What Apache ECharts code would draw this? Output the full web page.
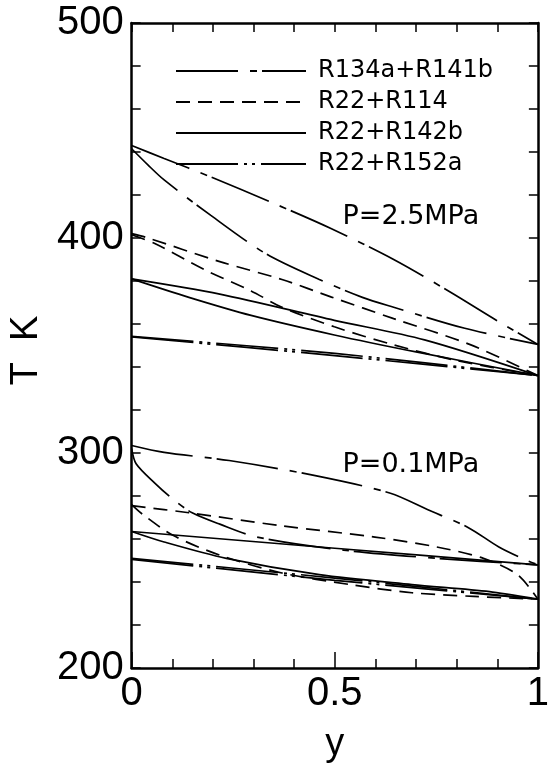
<!DOCTYPE html>
<html>
<head>
<meta charset="utf-8">
<script src="https://cdn.jsdelivr.net/npm/echarts@6/dist/echarts.min.js"></script>
<style>
html,body{margin:0;padding:0;background:#fff;}
#chart{width:552px;height:769px;}
</style>
</head>
<body>
<div id="chart"></div>
<script>
// ---- data: [y (mole fraction), T (K)] ----
// P = 2.5 MPa
var hp_R134a_R141b_a = [[0,443],[0.08,437],[0.2,428],[0.339,417],[0.492,404.3],[0.645,390],[0.783,375],[0.9,361.5],[1,350.5]];
var hp_R134a_R141b_b = [[0,441.5],[0.04,434],[0.08,427],[0.195,410.5],[0.332,392.5],[0.462,380.7],[0.568,372.4],[0.645,367.8],[0.82,358],[1,350.5]];
var hp_R22_R114_a = [[0,402],[0.034,400.4],[0.217,389],[0.37,380.7],[0.492,372.5],[0.645,362.5],[0.835,350.3],[1,336]];
var hp_R22_R114_b = [[0,401.5],[0.057,397.4],[0.179,385.3],[0.294,375.4],[0.37,367.8],[0.499,358.7],[0.645,350.3],[0.8,343],[1,336]];
var hp_R22_R142b_a = [[0,381],[0.217,373.9],[0.499,361.7],[0.721,352.6],[1,336]];
var hp_R22_R142b_b = [[0,381],[0.141,372.4],[0.294,364],[0.499,354.9],[0.7,347],[1,336]];
var hp_R22_R152a_a = [[0,354.2],[0.5,346.3],[1,336]];
var hp_R22_R152a_b = [[0,354],[0.5,345.3],[1,336]];
// P = 0.1 MPa
var lp_R134a_R141b_a = [[0,303.5],[0.08,300.3],[0.24,296.5],[0.446,289.7],[0.637,281.3],[0.728,273.7],[0.828,265.4],[0.904,256.3],[0.973,250],[1,248]];
var lp_R134a_R141b_b = [[0,302],[0.011,295],[0.057,286],[0.103,278.3],[0.149,272.2],[0.217,266.9],[0.309,260.9],[0.522,254.8],[0.751,251],[1,248]];
var lp_R22_R114_a = [[0,275.5],[0.141,272.2],[0.37,266.1],[0.599,260.9],[0.751,256.3],[0.866,251],[0.95,243.4],[1,232]];
var lp_R22_R114_b = [[0,276],[0.027,271.5],[0.103,261.6],[0.217,252.5],[0.37,244.2],[0.538,238.8],[0.69,235],[0.842,233.3],[1,232]];
var lp_R22_R142b_a = [[0,263.5],[0.5,255.7],[1,248]];
var lp_R22_R142b_b = [[0,263.5],[0.08,258.6],[0.233,251],[0.462,243.4],[0.69,238.8],[0.881,235.5],[1,232]];
var lp_R22_R152a_a = [[0,251],[0.5,241.8],[1,232]];
var lp_R22_R152a_b = [[0,250.5],[0.5,240.8],[1,232]];

var legendNames = ['R134a+R141b','R22+R114','R22+R142b','R22+R152a'];
var annotations = [{text:'P=2.5MPa', at:[0.519,409.8]}, {text:'P=0.1MPa', at:[0.519,294.2]}];

var xTicks = {min:0, max:1, interval:0.5};
var yTicks = {min:200, max:500, interval:100};

// ---- styles ----
var FONT = 'DejaVu Sans';
var TICKFONT = 'Liberation Sans';
var dashStyles = {
  'R134a+R141b': [62,12,7,5],
  'R22+R114': [14,8],
  'R22+R142b': 'solid',
  'R22+R152a': [62,6,3,5,3,6]
};
function mk(name, data){
  return {name:name, type:'line', data:data, symbol:'none', smooth:0.3,
    lineStyle:{color:'#000', width:1.7, type:dashStyles[name]}, itemStyle:{color:'#000'}, z:3};
}
var series = [
  mk('R134a+R141b', hp_R134a_R141b_a), mk('R134a+R141b', hp_R134a_R141b_b),
  mk('R134a+R141b', lp_R134a_R141b_a), mk('R134a+R141b', lp_R134a_R141b_b),
  mk('R22+R114', hp_R22_R114_a), mk('R22+R114', hp_R22_R114_b),
  mk('R22+R114', lp_R22_R114_a), mk('R22+R114', lp_R22_R114_b),
  mk('R22+R142b', hp_R22_R142b_a), mk('R22+R142b', hp_R22_R142b_b),
  mk('R22+R142b', lp_R22_R142b_a), mk('R22+R142b', lp_R22_R142b_b),
  mk('R22+R152a', hp_R22_R152a_a), mk('R22+R152a', hp_R22_R152a_b),
  mk('R22+R152a', lp_R22_R152a_a), mk('R22+R152a', lp_R22_R152a_b)
];

var axLine = {show:true, onZero:false, lineStyle:{color:'#000', width:2.5}};
var tickLS = {color:'#000', width:1.5};
var chart = echarts.init(document.getElementById('chart'), null, {renderer:'canvas'});
chart.setOption({
  backgroundColor:'#fff',
  animation:false,
  grid:{left:105, right:11, top:23, bottom:87},
  legend:{
    data:legendNames, orient:'vertical', left:170, top:54,
    itemWidth:130, itemHeight:14, itemGap:7,
    itemStyle:{opacity:0},
    textStyle:{fontFamily:FONT, fontSize:24, color:'#000', padding:[0,0,0,7]},
    selectedMode:false
  },
  xAxis:[
    {type:'value', min:xTicks.min, max:xTicks.max, interval:xTicks.interval, position:'bottom',
     axisLine:axLine, splitLine:{show:false},
     axisTick:{show:true, inside:true, length:16, lineStyle:tickLS},
     minorTick:{show:true, splitNumber:5, length:9, lineStyle:tickLS},
     axisLabel:{fontFamily:TICKFONT, fontSize:40, color:'#000', margin:6},
     name:'y', nameLocation:'middle', nameGap:58,
     nameTextStyle:{fontFamily:TICKFONT, fontSize:38, color:'#000'}},
    {type:'value', min:xTicks.min, max:xTicks.max, interval:xTicks.interval, position:'top',
     axisLine:axLine, splitLine:{show:false}, axisLabel:{show:false},
     axisTick:{show:true, inside:true, length:9, lineStyle:tickLS},
     minorTick:{show:true, splitNumber:5, length:9, lineStyle:tickLS}}
  ],
  yAxis:[
    {type:'value', min:yTicks.min, max:yTicks.max, interval:yTicks.interval, position:'left',
     axisLine:axLine, splitLine:{show:false},
     axisTick:{show:true, inside:true, length:9, lineStyle:tickLS},
     minorTick:{show:true, splitNumber:5, length:9, lineStyle:tickLS},
     axisLabel:{fontFamily:TICKFONT, fontSize:40, color:'#000', margin:8},
     name:'T  K', nameLocation:'middle', nameGap:62, nameRotate:90,
     nameTextStyle:{fontFamily:TICKFONT, fontSize:38, color:'#000', padding:[0,10,0,0]}},
    {type:'value', min:yTicks.min, max:yTicks.max, interval:yTicks.interval, position:'right',
     axisLine:axLine, splitLine:{show:false}, axisLabel:{show:false},
     axisTick:{show:true, inside:true, length:9, lineStyle:tickLS},
     minorTick:{show:true, splitNumber:5, length:9, lineStyle:tickLS}}
  ],
  series:series
});
// annotations placed through the chart's own coordinate conversion
var g = annotations.map(function(a){
  var p = chart.convertToPixel({xAxisIndex:0, yAxisIndex:0}, a.at);
  return {type:'text', x:p[0], y:p[1], style:{text:a.text, fontFamily:FONT, fontSize:27, fill:'#000', textAlign:'left', textVerticalAlign:'middle'}};
});
chart.setOption({graphic:g});
</script>
</body>
</html>
